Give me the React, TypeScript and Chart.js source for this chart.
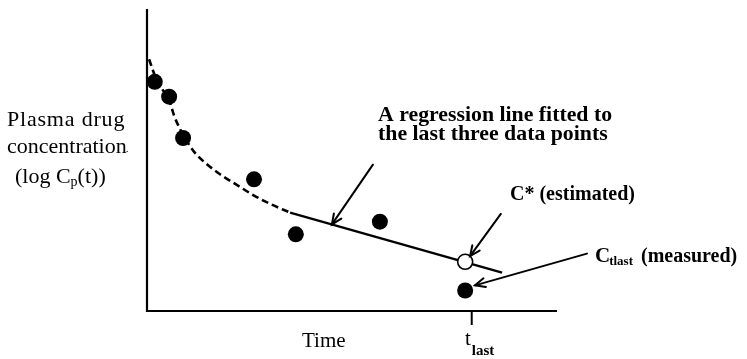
import React, { useEffect, useRef } from "react";
import { Chart, registerables } from "chart.js";

Chart.register(...registerables);

// measured plasma concentrations (arbitrary time units 0..100, log conc units 0..100)
const measuredTimes = [1.9, 5.4, 8.8, 26.1, 36.3, 56.8, 77.6];
const measuredConc = [75.9, 71.0, 57.3, 43.6, 25.4, 29.6, 6.8];

// dashed fitted curve (early phase)
const curveTimes = [0.5, 1.95, 3.66, 5.37, 6.59, 8.05, 9.51, 11.7, 14.1, 17.8, 22.0, 25.9, 30.0, 34.9];
const curveConc = [83.4, 77.9, 73.6, 70.0, 64.8, 60.3, 56.7, 52.4, 49.2, 45.3, 41.7, 38.4, 35.5, 32.6];

// regression line fitted to last three data points
const regressionTimes = [34.9, 86.6];
const regressionConc = [32.6, 12.7];

// estimated C* at t_last
const estimatedTimes = [77.6];
const estimatedConc = [16.3];

// t_last tick on the time axis
const tLastTick = 79.2;

// annotation arrows [fromX, fromY, toX, toY] in data units
const arrowRegression = [55.1, 48.5, 45.1, 28.7];
const arrowEstimated = [86.3, 32.2, 78.8, 18.2];
const arrowMeasured = [107.3, 19.0, 80.0, 8.5];

const regressionText = ["A regression line fitted to", "the last three data points"];
const estimatedText = "C* (estimated)";
const measuredText = ["C", "tlast", "(measured)"];
const yTitle = ["Plasma drug", "concentration", "(log C", "p", "(t))"];
const xTitle = "Time";
const tLastLabel = ["t", "last"];

const SERIF = "'Liberation Serif', 'Times New Roman', serif";

function drawArrow(ctx: CanvasRenderingContext2D, x1: number, y1: number, x2: number, y2: number) {
  ctx.beginPath();
  ctx.moveTo(x1, y1);
  ctx.lineTo(x2, y2);
  ctx.stroke();
  const ang = Math.atan2(y2 - y1, x2 - x1);
  const L = 11;
  const a = 0.42;
  ctx.beginPath();
  ctx.moveTo(x2 - L * Math.cos(ang - a), y2 - L * Math.sin(ang - a));
  ctx.lineTo(x2, y2);
  ctx.lineTo(x2 - L * Math.cos(ang + a), y2 - L * Math.sin(ang + a));
  ctx.stroke();
}

const overlayPlugin = {
  id: "overlay",
  beforeDatasetsDraw(chart: any) {
    const ctx: CanvasRenderingContext2D = chart.ctx;
    const { left, right, top, bottom } = chart.chartArea;
    const xs = chart.scales.x;
    ctx.save();
    ctx.strokeStyle = "#000";
    ctx.lineWidth = 2.2;
    ctx.beginPath();
    ctx.moveTo(left, top);
    ctx.lineTo(left, bottom);
    ctx.lineTo(right, bottom);
    ctx.stroke();
    // t_last tick
    const tx = xs.getPixelForValue(tLastTick);
    ctx.lineWidth = 2;
    ctx.beginPath();
    ctx.moveTo(tx, bottom);
    ctx.lineTo(tx, bottom + 14);
    ctx.stroke();
    ctx.restore();
  },
  afterDatasetsDraw(chart: any) {
    const ctx: any = chart.ctx;
    const xs = chart.scales.x;
    const ys = chart.scales.y;
    const px = (v: number) => xs.getPixelForValue(v);
    const py = (v: number) => ys.getPixelForValue(v);
    ctx.save();
    ctx.strokeStyle = "#000";
    ctx.fillStyle = "#000";
    ctx.lineWidth = 2;
    ctx.lineCap = "round";
    for (const a of [arrowRegression, arrowEstimated, arrowMeasured]) {
      drawArrow(ctx, px(a[0]), py(a[1]), px(a[2]), py(a[3]));
    }
    ctx.textBaseline = "alphabetic";
    ctx.textAlign = "left";

    // y title (horizontal, left)
    ctx.font = `22px ${SERIF}`;
    ctx.letterSpacing = "0.8px";
    ctx.fillText(yTitle[0], 7, 126);
    ctx.letterSpacing = "0px";
    ctx.fillText(yTitle[1], 7, 153);
    let w = ctx.measureText(yTitle[1]).width;
    ctx.font = `11px ${SERIF}`;
    ctx.fillText(".", 6 + w, 152);
    ctx.font = `22px ${SERIF}`;
    let x = 15;
    ctx.fillText(yTitle[2], x, 183);
    x += ctx.measureText(yTitle[2]).width;
    ctx.font = `14px ${SERIF}`;
    ctx.fillText(yTitle[3], x, 186);
    x += ctx.measureText(yTitle[3]).width;
    ctx.font = `22px ${SERIF}`;
    ctx.fillText(yTitle[4], x, 183);

    // x title
    ctx.font = `21px ${SERIF}`;
    ctx.fillText(xTitle, 302, 347);
    // t_last label
    ctx.fillText(tLastLabel[0], 465, 345);
    w = ctx.measureText(tLastLabel[0]).width;
    ctx.font = `bold 15px ${SERIF}`;
    ctx.fillText(tLastLabel[1], 465 + w + 1, 355);

    // annotation texts
    ctx.font = `bold 21.8px ${SERIF}`;
    ctx.fillText(regressionText[0], 378, 121);
    ctx.fillText(regressionText[1], 378, 140);
    ctx.font = `bold 20px ${SERIF}`;
    ctx.fillText(estimatedText, 510, 200);
    ctx.font = `bold 21px ${SERIF}`;
    x = 595;
    ctx.fillText(measuredText[0], x, 262);
    x += ctx.measureText(measuredText[0]).width - 1;
    ctx.font = `bold 13px ${SERIF}`;
    ctx.fillText(measuredText[1], x, 265);
    x += ctx.measureText(measuredText[1]).width + 8;
    ctx.font = `bold 20px ${SERIF}`;
    ctx.fillText(measuredText[2], x, 262);
    ctx.restore();
  },
};

export default function App() {
  const ref = useRef<HTMLCanvasElement | null>(null);
  useEffect(() => {
    if (!ref.current) return;
    const toXY = (xs: number[], ys: number[]) => xs.map((v, i) => ({ x: v, y: ys[i] }));
    const chart = new Chart(ref.current, {
      type: "scatter",
      data: {
        datasets: [
          {
            label: "measured",
            data: toXY(measuredTimes, measuredConc),
            pointRadius: 8,
            pointBackgroundColor: "#000",
            pointBorderColor: "#000",
            pointBorderWidth: 0,
            showLine: false,
            clip: false as any,
          },
          {
            label: "estimated",
            data: toXY(estimatedTimes, estimatedConc),
            pointRadius: 7.5,
            pointBackgroundColor: "#fff",
            pointBorderColor: "#000",
            pointBorderWidth: 1.6,
            showLine: false,
            clip: false as any,
          },
          {
            label: "regression",
            data: toXY(regressionTimes, regressionConc),
            showLine: true,
            borderColor: "#000",
            borderWidth: 2.2,
            pointRadius: 0,
            clip: false as any,
          },
          {
            label: "curve",
            data: toXY(curveTimes, curveConc),
            showLine: true,
            borderColor: "#000",
            borderWidth: 2.6,
            borderDash: [7, 4],
            pointRadius: 0,
            tension: 0.4,
            cubicInterpolationMode: "monotone",
            clip: false as any,
          },
        ],
      },
      options: {
        responsive: false,
        animation: false,
        events: [],
        layout: { padding: { left: 147, top: 4, right: 190, bottom: 48 } },
        plugins: { legend: { display: false }, tooltip: { enabled: false }, title: { display: false } },
        scales: {
          x: { type: "linear", min: 0, max: 100, display: false },
          y: { type: "linear", min: 0, max: 100, display: false },
        },
      },
      plugins: [overlayPlugin],
    });
    return () => chart.destroy();
  }, []);
  return (
    <div style={{ position: "fixed", left: 0, top: 0, width: 747, height: 359, background: "#fff" }}>
      <canvas ref={ref} width={747} height={359} style={{ display: "block", width: 747, height: 359 }} />
    </div>
  );
}
